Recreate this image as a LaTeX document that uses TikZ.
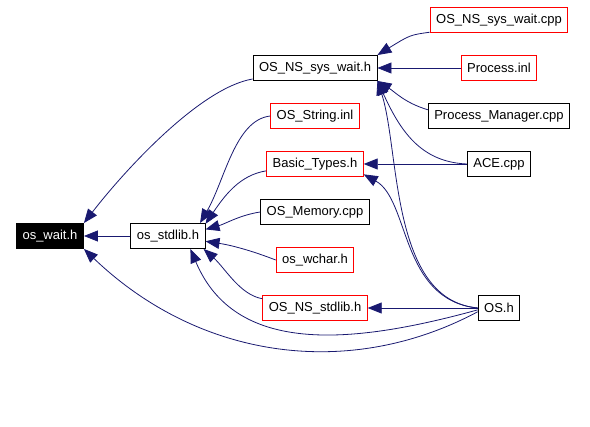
\documentclass[tikz,border=0pt]{standalone}
\usepackage{fontspec}
\setmainfont{Liberation Sans}
\usetikzlibrary{arrows.meta}

\definecolor{edgeblue}{RGB}{25,25,112}
\tikzset{
  file/.style={draw=black, line width=0.9pt, fill=white, minimum height=25pt,
    inner xsep=6pt, inner ysep=2pt, font=\fontsize{13}{15}\selectfont},
  redfile/.style={file, draw=red},
  curfile/.style={file, fill=black, text=white},
  dep/.style={draw=edgeblue, line width=0.8pt, -{Triangle[length=14pt, width=11pt]}},
}

\begin{document}
\begin{tikzpicture}[x=1pt, y=-1pt]
  \useasboundingbox (0,0) rectangle (590,427);

  % files
  \node[curfile] (oswait) at (50,236) {os\_wait.h};
  \node[file] (stdlib) at (168,236) {os\_stdlib.h};
  \node[file] (nswait) at (315,68) {OS\_NS\_sys\_wait.h};
  \node[redfile] (nswaitcpp) at (499,20) {OS\_NS\_sys\_wait.cpp};
  \node[redfile] (procinl) at (499,68) {Process.inl};
  \node[file] (procmgr) at (499,116) {Process\_Manager.cpp};
  \node[redfile] (strinl) at (315,116) {OS\_String.inl};
  \node[redfile] (basic) at (315,164) {Basic\_Types.h};
  \node[file] (acecpp) at (499,164) {ACE.cpp};
  \node[file] (memcpp) at (315,212) {OS\_Memory.cpp};
  \node[redfile] (wchar) at (315,260) {os\_wchar.h};
  \node[redfile] (nsstdlib) at (315,308) {OS\_NS\_stdlib.h};
  \node[file] (osh) at (499,308) {OS.h};

  % into os_wait.h
  \draw[dep] (stdlib.west) -- (oswait.east);
  \draw[dep] (nswait.190) .. controls (200,88) and (125,170) .. (oswait.north east);
  \draw[dep] (osh.190) .. controls (350,380) and (200,360) .. (oswait.south east);

  % into os_stdlib.h
  \draw[dep] (strinl.west) .. controls (235,120) and (225,180) .. (stdlib.22);
  \draw[dep] (basic.188) .. controls (240,175) and (225,195) .. (stdlib.18);
  \draw[dep] (memcpp.west) .. controls (240,215) and (225,224) .. (stdlib.10);
  \draw[dep] (wchar.west) .. controls (250,250) and (230,245) .. (stdlib.-8);
  \draw[dep] (nsstdlib.170) .. controls (240,295) and (225,268) .. (stdlib.-20);
  \draw[dep] (osh.185) .. controls (350,345) and (235,355) .. (stdlib.-30);

  % into OS_NS_sys_wait.h
  \draw[dep] (nswaitcpp.190) .. controls (410,35) .. (nswait.north east);
  \draw[dep] (procinl.west) -- (nswait.east);
  \draw[dep] (procmgr.175) .. controls (405,103) and (395,92) .. (nswait.south east);
  \draw[dep] (acecpp.west) .. controls (420,162) and (400,130) .. (nswait.south east);
  \draw[dep] (osh.west) .. controls (390,300) and (400,150) .. (nswait.south east);

  % into Basic_Types.h
  \draw[dep] (acecpp.west) -- (basic.east);
  \draw[dep] (osh.west) .. controls (400,300) and (410,200) .. (basic.-12);

  % into OS_NS_stdlib.h
  \draw[dep] (osh.west) -- (nsstdlib.east);
\end{tikzpicture}
\end{document}
